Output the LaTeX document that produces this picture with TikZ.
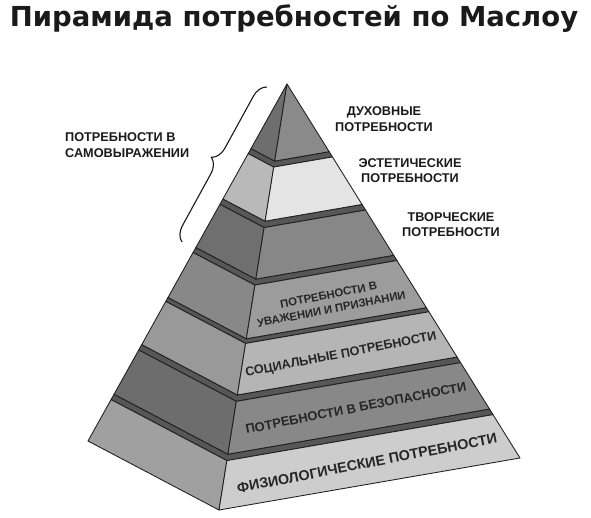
\documentclass[tikz,border=0pt]{standalone}
\usepackage{fontspec}
\setmainfont{Liberation Sans}
\newfontfamily\titlefont{DejaVu Sans}
\usetikzlibrary{calc,decorations.pathreplacing}
\definecolor{edgec}{HTML}{1E1E1E}
\definecolor{bandc}{HTML}{575757}
\definecolor{labc}{HTML}{1A1A1A}
\definecolor{ptc}{HTML}{262626}
\definecolor{sL}{HTML}{6E6E6E}\definecolor{sF}{HTML}{8A8A8A}
\definecolor{aL}{HTML}{B9B9B9}\definecolor{aF}{HTML}{E4E4E4}
\definecolor{cL}{HTML}{6F6F6F}\definecolor{cF}{HTML}{878787}
\definecolor{eL}{HTML}{888888}\definecolor{eF}{HTML}{9C9C9C}
\definecolor{oL}{HTML}{999999}\definecolor{oF}{HTML}{B5B5B5}
\definecolor{yL}{HTML}{6D6D6D}\definecolor{yF}{HTML}{888888}
\definecolor{pL}{HTML}{A0A0A0}\definecolor{pF}{HTML}{CDCDCD}
\newcommand\pyrtier[4]{%
  \filldraw[face, fill=#3] ($(A)!#1!(L)$) -- ($(A)!#1!(F)$) -- ($(A)!#2!(F)$) -- ($(A)!#2!(L)$) -- cycle;
  \filldraw[face, fill=#4] ($(A)!#1!(F)$) -- ($(A)!#1!(R)$) -- ($(A)!#2!(R)$) -- ($(A)!#2!(F)$) -- cycle;}
\newcommand\pyrband[2]{%
  \filldraw[face, fill=bandc] ($(A)!#1!(L)$) -- ($(A)!#1!(F)$) -- ($(A)!#1!(R)$) -- ($(A)!#2!(R)$) -- ($(A)!#2!(F)$) -- ($(A)!#2!(L)$) -- cycle;}
\begin{document}
\begin{tikzpicture}[x=1pt,y=-1pt,
  face/.style={draw=edgec, line width=0.85pt, line join=round},
  lbl/.style={font=\bfseries\fontsize{12.7}{15.5}\selectfont, text=labc, align=center, inner sep=0pt},
  ptxt/.style={text=ptc, align=center, inner sep=0pt, rotate=11}]
\useasboundingbox (0,0) rectangle (591,518);
\fill[white] (0,0) rectangle (591,518);
\node[font=\titlefont\bfseries\fontsize{27.5}{30}\selectfont, text=labc, anchor=base, inner sep=0pt] (title) at (294,27) {Пирамида потребностей по Маслоу};
\coordinate (A) at (287,84);
\coordinate (L) at (88,441);
\coordinate (F) at (219,510);
\coordinate (R) at (520,458);
\pyrband{0.181}{0.195}
\pyrband{0.322}{0.337}
\pyrband{0.458}{0.472}
\pyrband{0.598}{0.609}
\pyrband{0.730}{0.745}
\pyrband{0.869}{0.884}
\pyrtier{0}{0.181}{sL}{sF}
\pyrtier{0.195}{0.322}{aL}{aF}
\pyrtier{0.337}{0.458}{cL}{cF}
\pyrtier{0.472}{0.598}{eL}{eF}
\pyrtier{0.609}{0.730}{oL}{oF}
\pyrtier{0.745}{0.869}{yL}{yF}
\pyrtier{0.884}{1}{pL}{pF}
\node[ptxt, font=\bfseries\fontsize{14.3}{16}\selectfont] (phys) at (367,463) {ФИЗИОЛОГИЧЕСКИЕ ПОТРЕБНОСТИ};
\node[ptxt, font=\bfseries\fontsize{12.9}{15}\selectfont] (safe) at (356,408) {ПОТРЕБНОСТИ В БЕЗОПАСНОСТИ};
\node[ptxt, font=\bfseries\fontsize{12.6}{15}\selectfont] (soc) at (341,355) {СОЦИАЛЬНЫЕ ПОТРЕБНОСТИ};
\node[ptxt, font=\bfseries\fontsize{11.3}{14.5}\selectfont] (est) at (330,302) {ПОТРЕБНОСТИ В\\УВАЖЕНИИ И ПРИЗНАНИИ};
\node[lbl] (spir) at (384,119) {ДУХОВНЫЕ\\ПОТРЕБНОСТИ};
\node[lbl] (aes) at (410,170.5) {ЭСТЕТИЧЕСКИЕ\\ПОТРЕБНОСТИ};
\node[lbl] (cre) at (451,224.5) {ТВОРЧЕСКИЕ\\ПОТРЕБНОСТИ};
\node[lbl, align=left, anchor=west] (self) at (65,145) {ПОТРЕБНОСТИ В\\САМОВЫРАЖЕНИИ};
\coordinate (brB) at (182,242);
\coordinate (brT) at (267,87);
\draw[draw=labc, line width=1.1pt, decorate, decoration={brace, amplitude=15pt}] (brB) -- (brT);
\end{tikzpicture}
\end{document}
